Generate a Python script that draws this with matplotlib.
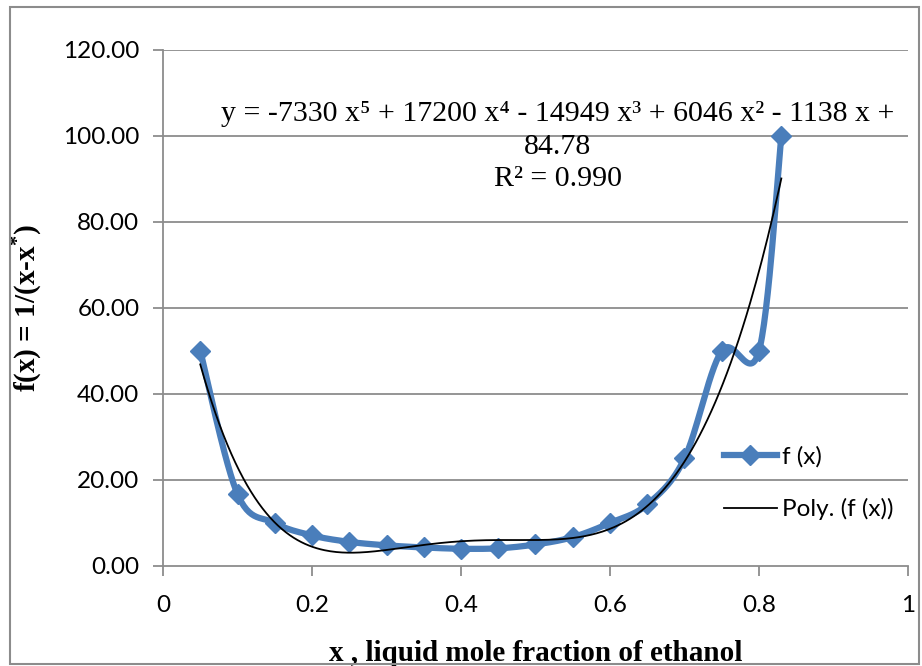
import numpy as np
import matplotlib
matplotlib.use("Agg")
import matplotlib.pyplot as plt

# data
x_frac = [0.05, 0.10, 0.15, 0.20, 0.25, 0.30, 0.35, 0.40, 0.45, 0.50,
          0.55, 0.60, 0.65, 0.70, 0.75, 0.80, 0.83]
f_x = [50.0, 16.7, 10.0, 7.1, 5.6, 4.8, 4.3, 4.0, 4.1, 5.0,
       6.7, 10.0, 14.3, 25.0, 50.0, 50.0, 100.0]

x_ticks = [0, 0.2, 0.4, 0.6, 0.8, 1]
x_tick_labels = ["0", "0.2", "0.4", "0.6", "0.8", "1"]
y_ticks = [0, 20, 40, 60, 80, 100, 120]
eq_text = ("y = -7330 x\u2075 + 17200 x\u2074 - 14949 x\u00b3 + 6046 x\u00b2 - 1138 x +\n"
           "84.78\nR\u00b2 = 0.990")

BLUE = "#4a7ebb"
GRID = "#8c8c8c"


def smooth(xs, ys, n=30):
    # catmull-rom style smoothing like the spreadsheet "smoothed line"
    xs = np.asarray(xs, float)
    ys = np.asarray(ys, float)
    px = np.concatenate([[xs[0]], xs, [xs[-1]]])
    py = np.concatenate([[ys[0]], ys, [ys[-1]]])
    outx, outy = [], []
    for i in range(1, len(px) - 2):
        t = np.linspace(0, 1, n)
        p0, p1, p2, p3 = (np.array([px[j], py[j]]) for j in range(i - 1, i + 3))
        c1 = p1 + (p2 - p0) / 6.0
        c2 = p2 - (p3 - p1) / 6.0
        pts = (((1 - t) ** 3)[:, None] * p1 + (3 * (1 - t) ** 2 * t)[:, None] * c1
               + (3 * (1 - t) * t ** 2)[:, None] * c2 + (t ** 3)[:, None] * p2)
        outx.extend(pts[:, 0])
        outy.extend(pts[:, 1])
    return np.array(outx), np.array(outy)


plt.rcParams['mathtext.fontset'] = 'custom'
plt.rcParams['mathtext.rm'] = 'Liberation Serif:bold'
plt.rcParams['mathtext.bf'] = 'Liberation Serif:bold'

fig = plt.figure(figsize=(9.22, 6.66), dpi=100)
ax = fig.add_axes([0.1768, 0.1502, 0.808, 0.775])

# outer chart border
fig.patches.append(plt.Rectangle((0.011, 0.003), 0.986, 0.986, transform=fig.transFigure,
                                 fill=False, edgecolor=GRID, linewidth=1.5))

for yv in y_ticks[1:]:
    ax.axhline(yv, color=GRID, linewidth=1.3, zorder=0)

sx, sy = smooth(x_frac, f_x)
ax.plot(sx, sy, color=BLUE, linewidth=4.5, zorder=2)
ax.plot(x_frac, f_x, linestyle="none", marker="D", markersize=10, color=BLUE, zorder=3)

coef = np.polyfit(x_frac, f_x, 5)
tx = np.linspace(x_frac[0], x_frac[-1], 300)
ax.plot(tx, np.polyval(coef, tx), color="black", linewidth=1.3, zorder=4)

# legend, no frame like the spreadsheet one
lh_f, = ax.plot([], [], color=BLUE, linewidth=4.5, marker="D", markersize=10)
lh_p, = ax.plot([], [], color="black", linewidth=1.3)
leg = ax.legend([lh_f, lh_p], ["f (x)", "Poly. (f (x))"], loc="lower right",
                bbox_to_anchor=(1.0, 0.06), frameon=False, handlelength=2.2,
                handletextpad=0.2, labelspacing=1.25, borderaxespad=0.2,
                prop={"family": "Lato", "size": 17.5})

ax.text(0.53, 108, eq_text, ha="center", va="top", fontsize=21.5,
        family="Liberation Serif", linespacing=1.32)

ax.set_xlim(0, 1)
ax.set_ylim(0, 120)
ax.set_xticks(x_ticks)
ax.set_xticklabels(x_tick_labels)
ax.set_yticks(y_ticks)
ax.set_yticklabels(["%.2f" % v for v in y_ticks])
ax.tick_params(labelsize=17.5, color=GRID, length=7, width=1.3)
ax.tick_params(axis="x", pad=14)
ax.tick_params(axis="y", pad=10)
for lab in ax.get_xticklabels() + ax.get_yticklabels():
    lab.set_family("Lato")

for s in ["top", "right"]:
    ax.spines[s].set_visible(False)
for s in ["left", "bottom"]:
    ax.spines[s].set_color(GRID)
    ax.spines[s].set_linewidth(1.3)

ax.set_xlabel("x , liquid mole fraction of ethanol", fontsize=21, fontweight="bold",
              family="Liberation Serif", labelpad=17)
ax.set_ylabel(r"f(x) = 1/(x-x$^{*}$)", fontsize=21, fontweight="bold",
              family="Liberation Serif", labelpad=14)

fig.savefig("out.png", dpi=100)
